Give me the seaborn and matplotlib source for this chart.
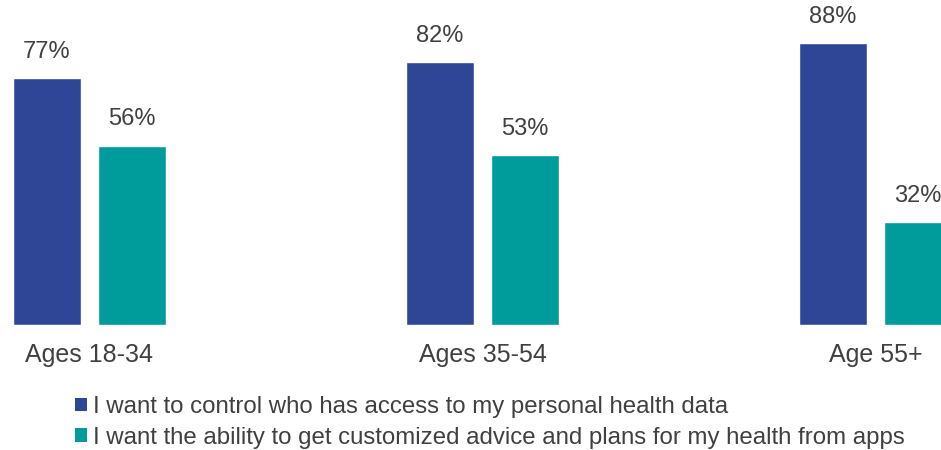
import matplotlib
matplotlib.use("Agg")
import matplotlib.pyplot as plt
from matplotlib.patches import Patch
import seaborn as sns
import pandas as pd

age_groups = ["Ages 18-34", "Ages 35-54", "Age 55+"]
series_names = [
    "I want to control who has access to my personal health data",
    "I want the ability to get customized advice and plans for my health from apps",
]
control_access = [77, 82, 88]
custom_advice = [56, 53, 32]

colors = ["#2F4697", "#009C9C"]
text_color = "#404040"

sns.set_theme(style="white")
plt.rcParams["font.family"] = ["Liberation Sans", "DejaVu Sans"]

df = pd.DataFrame({
    "group": age_groups * 2,
    "series": [series_names[0]] * 3 + [series_names[1]] * 3,
    "value": control_access + custom_advice,
})

fig = plt.figure(figsize=(9.41, 4.5), dpi=100)
ax = fig.add_axes([0, 125 / 450, 1, 325 / 450])

sns.barplot(data=df, x="group", y="value", hue="series", order=age_groups,
            hue_order=series_names, palette=colors, width=0.433, gap=0.21,
            errorbar=None, legend=False, ax=ax, saturation=1)

for container in ax.containers:
    ax.bar_label(container, labels=[f"{v:.0f}%" for v in container.datavalues],
                 padding=11, fontsize=17, color=text_color)

ax.set_xlim(-0.2277, 2.1667)
ax.set_ylim(0, 101.4)
ax.set_xlabel("")
ax.set_ylabel("")
ax.set_yticks([])
ax.tick_params(axis="x", length=0, pad=13, labelsize=18, labelcolor=text_color)
for s in ax.spines.values():
    s.set_visible(False)

handles = [Patch(facecolor=c, edgecolor="none") for c in colors]
fig.legend(handles, series_names, loc="upper left", bbox_to_anchor=(75 / 941, 1 - 396 / 450),
           frameon=False, fontsize=17.3, handlelength=0.5, handleheight=0.5,
           handletextpad=0.25, labelspacing=0.36, borderaxespad=0, borderpad=0,
           labelcolor=text_color)

fig.savefig("out.png", dpi=100)
